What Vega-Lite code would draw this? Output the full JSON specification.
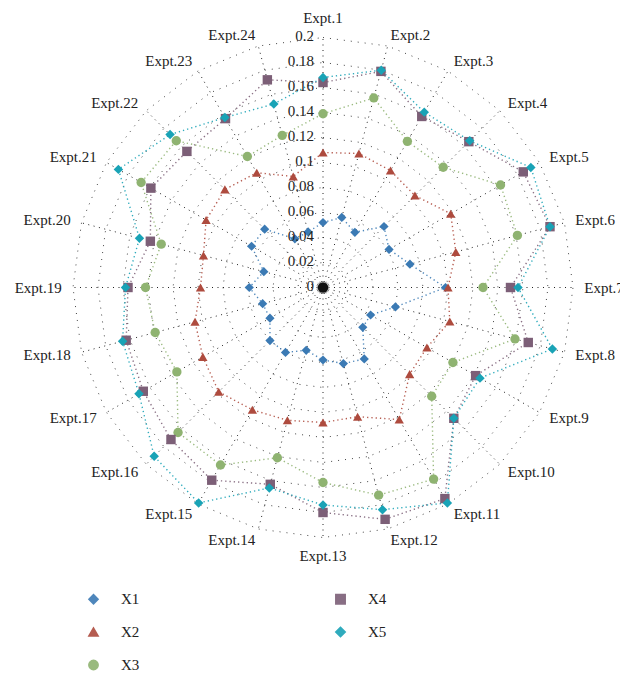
{
  "$schema": "https://vega.github.io/schema/vega-lite/v6.json",
  "autosize": "none",
  "width": 500,
  "height": 500,
  "padding": {"left": 73, "top": 37.5, "right": 47, "bottom": 135.5},
  "background": "white",
  "config": {
    "view": {"stroke": null},
    "font": "Liberation Serif",
    "text": {"font": "Liberation Serif", "fontSize": 15, "color": "#222"},
    "legend": {"labelFont": "Liberation Serif", "labelFontSize": 15, "labelColor": "#222"}
  },
  "datasets": {
    "expts": [
      {"expt": "Expt.1", "k": 1, "X1": 0.052, "X2": 0.108, "X3": 0.139, "X4": 0.164, "X5": 0.168},
      {"expt": "Expt.2", "k": 2, "X1": 0.058, "X2": 0.111, "X3": 0.157, "X4": 0.179, "X5": 0.180},
      {"expt": "Expt.3", "k": 3, "X1": 0.051, "X2": 0.108, "X3": 0.135, "X4": 0.158, "X5": 0.162},
      {"expt": "Expt.4", "k": 4, "X1": 0.069, "X2": 0.104, "X3": 0.136, "X4": 0.165, "X5": 0.166},
      {"expt": "Expt.5", "k": 5, "X1": 0.061, "X2": 0.118, "X3": 0.164, "X4": 0.185, "X5": 0.192},
      {"expt": "Expt.6", "k": 6, "X1": 0.072, "X2": 0.110, "X3": 0.161, "X4": 0.188, "X5": 0.188},
      {"expt": "Expt.7", "k": 7, "X1": 0.098, "X2": 0.100, "X3": 0.128, "X4": 0.150, "X5": 0.156},
      {"expt": "Expt.8", "k": 8, "X1": 0.060, "X2": 0.105, "X3": 0.159, "X4": 0.170, "X5": 0.190},
      {"expt": "Expt.9", "k": 9, "X1": 0.044, "X2": 0.096, "X3": 0.120, "X4": 0.141, "X5": 0.145},
      {"expt": "Expt.10", "k": 10, "X1": 0.045, "X2": 0.098, "X3": 0.123, "X4": 0.148, "X5": 0.148},
      {"expt": "Expt.11", "k": 11, "X1": 0.066, "X2": 0.122, "X3": 0.177, "X4": 0.195, "X5": 0.199},
      {"expt": "Expt.12", "k": 12, "X1": 0.063, "X2": 0.107, "X3": 0.172, "X4": 0.192, "X5": 0.184},
      {"expt": "Expt.13", "k": 13, "X1": 0.058, "X2": 0.108, "X3": 0.156, "X4": 0.180, "X5": 0.174},
      {"expt": "Expt.14", "k": 14, "X1": 0.052, "X2": 0.110, "X3": 0.141, "X4": 0.163, "X5": 0.166},
      {"expt": "Expt.15", "k": 15, "X1": 0.060, "X2": 0.113, "X3": 0.164, "X4": 0.178, "X5": 0.199},
      {"expt": "Expt.16", "k": 16, "X1": 0.060, "X2": 0.118, "X3": 0.164, "X4": 0.172, "X5": 0.191},
      {"expt": "Expt.17", "k": 17, "X1": 0.049, "X2": 0.111, "X3": 0.135, "X4": 0.166, "X5": 0.170},
      {"expt": "Expt.18", "k": 18, "X1": 0.050, "X2": 0.106, "X3": 0.139, "X4": 0.163, "X5": 0.166},
      {"expt": "Expt.19", "k": 19, "X1": 0.059, "X2": 0.098, "X3": 0.142, "X4": 0.156, "X5": 0.158},
      {"expt": "Expt.20", "k": 20, "X1": 0.049, "X2": 0.099, "X3": 0.134, "X4": 0.143, "X5": 0.152},
      {"expt": "Expt.21", "k": 21, "X1": 0.066, "X2": 0.108, "X3": 0.168, "X4": 0.159, "X5": 0.189},
      {"expt": "Expt.22", "k": 22, "X1": 0.066, "X2": 0.111, "X3": 0.166, "X4": 0.154, "X5": 0.173},
      {"expt": "Expt.23", "k": 23, "X1": 0.045, "X2": 0.106, "X3": 0.121, "X4": 0.156, "X5": 0.157},
      {"expt": "Expt.24", "k": 24, "X1": 0.046, "X2": 0.092, "X3": 0.126, "X4": 0.172, "X5": 0.152}
    ],
    "rings": [
      {"r": 0, "k": [1,2,3,4,5,6,7,8,9,10,11,12,13,14,15,16,17,18,19,20,21,22,23,24]},
      {"r": 0.02, "k": [1,2,3,4,5,6,7,8,9,10,11,12,13,14,15,16,17,18,19,20,21,22,23,24]},
      {"r": 0.04, "k": [1,2,3,4,5,6,7,8,9,10,11,12,13,14,15,16,17,18,19,20,21,22,23,24]},
      {"r": 0.06, "k": [1,2,3,4,5,6,7,8,9,10,11,12,13,14,15,16,17,18,19,20,21,22,23,24]},
      {"r": 0.08, "k": [1,2,3,4,5,6,7,8,9,10,11,12,13,14,15,16,17,18,19,20,21,22,23,24]},
      {"r": 0.10, "k": [1,2,3,4,5,6,7,8,9,10,11,12,13,14,15,16,17,18,19,20,21,22,23,24]},
      {"r": 0.12, "k": [1,2,3,4,5,6,7,8,9,10,11,12,13,14,15,16,17,18,19,20,21,22,23,24]},
      {"r": 0.14, "k": [1,2,3,4,5,6,7,8,9,10,11,12,13,14,15,16,17,18,19,20,21,22,23,24]},
      {"r": 0.16, "k": [1,2,3,4,5,6,7,8,9,10,11,12,13,14,15,16,17,18,19,20,21,22,23,24]},
      {"r": 0.18, "k": [1,2,3,4,5,6,7,8,9,10,11,12,13,14,15,16,17,18,19,20,21,22,23,24]},
      {"r": 0.20, "k": [1,2,3,4,5,6,7,8,9,10,11,12,13,14,15,16,17,18,19,20,21,22,23,24]}
    ]
  },
  "layer": [
    {
      "data": {"name": "rings"},
      "transform": [
        {"flatten": ["k"]},
        {"calculate": "(datum.k - 1) * PI / 12", "as": "ang"},
        {"calculate": "datum.r * sin(datum.ang)", "as": "px"},
        {"calculate": "datum.r * cos(datum.ang)", "as": "py"}
      ],
      "layer": [
        {
          "transform": [{"filter": "datum.r > 0"}],
          "mark": {"type": "line", "interpolate": "linear-closed", "stroke": "#444", "strokeWidth": 1, "strokeDash": [1, 6]},
          "encoding": {
            "x": {"field": "px", "type": "quantitative", "scale": {"domain": [-0.2, 0.2], "nice": false, "zero": false}, "axis": null},
            "y": {"field": "py", "type": "quantitative", "scale": {"domain": [-0.2, 0.2], "nice": false, "zero": false}, "axis": null},
            "detail": {"field": "r", "type": "quantitative"},
            "order": {"field": "k", "type": "quantitative"}
          }
        },
        {
          "transform": [{"filter": "datum.r == 0 || datum.r == 0.2"}],
          "mark": {"type": "line", "stroke": "#222", "strokeWidth": 1, "strokeDash": [1, 4.5]},
          "encoding": {
            "x": {"field": "px", "type": "quantitative", "axis": null},
            "y": {"field": "py", "type": "quantitative", "axis": null},
            "detail": {"field": "k", "type": "quantitative"},
            "order": {"field": "r", "type": "quantitative"}
          }
        }
      ]
    },
    {
      "data": {"name": "expts"},
      "transform": [
        {"fold": ["X1", "X2", "X3", "X4", "X5"], "as": ["series", "value"]},
        {"calculate": "(datum.k - 1) * PI / 12", "as": "ang"},
        {"calculate": "datum.value * sin(datum.ang)", "as": "px"},
        {"calculate": "datum.value * cos(datum.ang)", "as": "py"}
      ],
      "layer": [
        {
          "mark": {"type": "line", "interpolate": "linear-closed", "strokeWidth": 1.4, "strokeDash": [1.3, 3], "opacity": 0.9},
          "encoding": {
            "x": {"field": "px", "type": "quantitative", "axis": null},
            "y": {"field": "py", "type": "quantitative", "axis": null},
            "stroke": {"field": "series", "type": "nominal",
              "scale": {"domain": ["X1", "X2", "X3", "X4", "X5"], "range": ["#3b7ab4", "#ae4b3e", "#8fb371", "#7c5f77", "#19a3b6"]}},
            "detail": {"field": "series", "type": "nominal"},
            "order": {"field": "k", "type": "quantitative"}
          }
        },
        {
          "mark": {"type": "point", "filled": true, "opacity": 1},
          "encoding": {
            "x": {"field": "px", "type": "quantitative", "axis": null},
            "y": {"field": "py", "type": "quantitative", "axis": null},
            "color": {"field": "series", "type": "nominal",
              "scale": {"domain": ["X1", "X2", "X3", "X4", "X5"], "range": ["#3b7ab4", "#ae4b3e", "#8fb371", "#7c5f77", "#19a3b6"]},
              "legend": {
                "orient": "none", "legendX": 13, "legendY": 554, "columns": 2, "columnPadding": 192, "rowPadding": 16,
                "title": null, "symbolSize": 64, "labelOffset": 20
              }},
            "shape": {"field": "series", "type": "nominal",
              "scale": {"domain": ["X1", "X2", "X3", "X4", "X5"], "range": ["diamond", "triangle-up", "circle", "square", "diamond"]}},
            "size": {"field": "series", "type": "nominal",
              "scale": {"domain": ["X1", "X2", "X3", "X4", "X5"], "range": [85, 90, 75, 64, 64]}}
          }
        }
      ]
    },
    {
      "data": {"name": "rings"},
      "transform": [
        {"flatten": ["k"]},
        {"filter": "datum.k == 1"},
        {"calculate": "(datum.k - 1) * PI / 12", "as": "ang"},
        {"calculate": "datum.r * sin(datum.ang)", "as": "px"},
        {"calculate": "datum.r * cos(datum.ang)", "as": "py"}
      ],
      "layer": [
        {
          "transform": [{"filter": "datum.r == 0"}],
          "mark": {"type": "point", "filled": true, "color": "#111", "size": 110, "opacity": 1},
          "encoding": {
            "x": {"field": "px", "type": "quantitative", "axis": null},
            "y": {"field": "py", "type": "quantitative", "axis": null}
          }
        },
        {
          "mark": {"type": "text", "align": "right", "baseline": "middle", "dx": -9, "dy": -2},
          "encoding": {
            "x": {"field": "px", "type": "quantitative", "axis": null},
            "y": {"field": "py", "type": "quantitative", "axis": null},
            "text": {"field": "r", "type": "quantitative", "format": ".2~f"}
          }
        }
      ]
    },
    {
      "data": {"name": "expts"},
      "transform": [
        {"calculate": "(datum.k - 1) * PI / 12", "as": "ang"},
        {"calculate": "0.209 * sin(datum.ang)", "as": "lx"},
        {"calculate": "0.209 * cos(datum.ang)", "as": "ly"}
      ],
      "layer": [
        {
          "transform": [{"filter": "datum.k >= 2 && datum.k <= 12"}],
          "mark": {"type": "text", "align": "left", "baseline": "middle"},
          "encoding": {"x": {"field": "lx", "type": "quantitative", "axis": null}, "y": {"field": "ly", "type": "quantitative", "axis": null}, "text": {"field": "expt", "type": "nominal"}}
        },
        {
          "transform": [{"filter": "datum.k >= 14"}],
          "mark": {"type": "text", "align": "right", "baseline": "middle"},
          "encoding": {"x": {"field": "lx", "type": "quantitative", "axis": null}, "y": {"field": "ly", "type": "quantitative", "axis": null}, "text": {"field": "expt", "type": "nominal"}}
        },
        {
          "transform": [{"filter": "datum.k == 1"}],
          "mark": {"type": "text", "align": "center", "baseline": "bottom"},
          "encoding": {"x": {"field": "lx", "type": "quantitative", "axis": null}, "y": {"field": "ly", "type": "quantitative", "axis": null}, "text": {"field": "expt", "type": "nominal"}}
        },
        {
          "transform": [{"filter": "datum.k == 13"}],
          "mark": {"type": "text", "align": "center", "baseline": "top"},
          "encoding": {"x": {"field": "lx", "type": "quantitative", "axis": null}, "y": {"field": "ly", "type": "quantitative", "axis": null}, "text": {"field": "expt", "type": "nominal"}}
        }
      ]
    }
  ]
}
